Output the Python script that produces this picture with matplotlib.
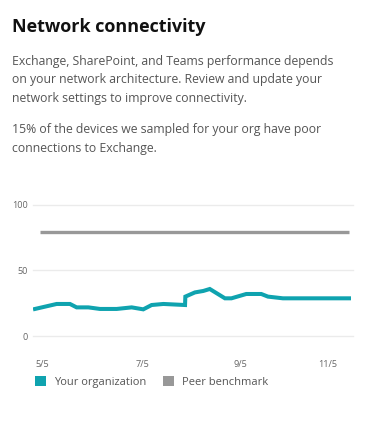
import matplotlib
matplotlib.use("Agg")
import matplotlib.pyplot as plt
from matplotlib.patches import Patch

# ---- data ----
title = "Network connectivity"
body1 = ["Exchange, SharePoint, and Teams performance depends",
         "on your network architecture. Review and update your",
         "network settings to improve connectivity."]
body2 = ["15% of the devices we sampled for your org have poor",
         "connections to Exchange."]

org_days = [0, 14, 22.6, 26.9, 34.5, 42, 52.8, 62.5, 70, 75.4, 83, 97, 97.2,
            103.4, 108.8, 113, 122.8, 127, 136.6, 146.3, 150.6, 160.3, 203]
org_vals = [20.6, 24.4, 24.4, 21.8, 21.8, 20.6, 20.6, 21.8, 20.3, 23.6, 24.4,
            23.6, 30.0, 33.2, 34.3, 35.8, 28.7, 28.7, 32.0, 32.0, 30.0, 28.7, 28.7]
peer_days = [3.2, 203]
peer_vals = [79, 79]

tick_days = [4.7, 69.5, 132.5, 189]
tick_labels = ["5/5", "7/5", "9/5", "11/5"]
y_ticks = [0, 50, 100]
series_names = ["Your organization", "Peer benchmark"]

TEAL = "#0FA3AF"
GRAY = "#989898"

W, H = 383, 430
fig = plt.figure(figsize=(W / 100, H / 100), dpi=100)
fig.patch.set_facecolor("white")
FONT = ["Open Sans", "DejaVu Sans"]

def fy(py):
    return 1 - py / H

def fx(px):
    return px / W

fig.text(fx(12), fy(31.7), title, fontsize=13.0, fontweight="bold",
         family=FONT, color="#111111", va="baseline", ha="left")
for i, line in enumerate(body1):
    fig.text(fx(12), fy(65 + i * 18.5), line, fontsize=8.85, family=FONT,
             color="#555555", va="baseline", ha="left")
for i, line in enumerate(body2):
    fig.text(fx(12), fy(133 + i * 18.8), line, fontsize=8.85, family=FONT,
             color="#555555", va="baseline", ha="left")

ax = fig.add_axes([fx(33), fy(336), fx(353) - fx(33), (336 - 204.7) / H])
ax.plot(org_days, org_vals, color=TEAL, lw=2.9, solid_joinstyle="miter", zorder=3)
ax.plot(peer_days, peer_vals, color=GRAY, lw=2.4, solid_capstyle="butt", zorder=3)
ax.set_xlim(-1.3, 205.6)
ax.set_ylim(0, 100)
ax.set_yticks(y_ticks)
ax.set_xticks(tick_days)
ax.set_xticklabels(tick_labels)
for s in ax.spines.values():
    s.set_visible(False)
ax.grid(axis="y", color="#EBEBEB", lw=1)
ax.set_axisbelow(True)
for gl in ax.get_ygridlines():
    gl.set_clip_on(False)
ax.tick_params(axis="both", length=0, labelsize=6.6, labelcolor="#666666")
ax.tick_params(axis="y", pad=4)
ax.tick_params(axis="x", pad=17)
for t in ax.get_xticklabels() + ax.get_yticklabels():
    t.set_family(FONT)

handles = [Patch(facecolor=TEAL, edgecolor="none"), Patch(facecolor=GRAY, edgecolor="none")]
leg = fig.legend(handles, series_names, loc="upper left",
                 bbox_to_anchor=(fx(35), fy(376)), ncol=2, frameon=False,
                 borderpad=0, borderaxespad=0, handlelength=1.0, handleheight=1.0,
                 handletextpad=0.72, columnspacing=1.5,
                 prop={"family": FONT, "size": 8})
for t in leg.get_texts():
    t.set_color("#555555")

fig.savefig("out.png", dpi=100, facecolor="white")
